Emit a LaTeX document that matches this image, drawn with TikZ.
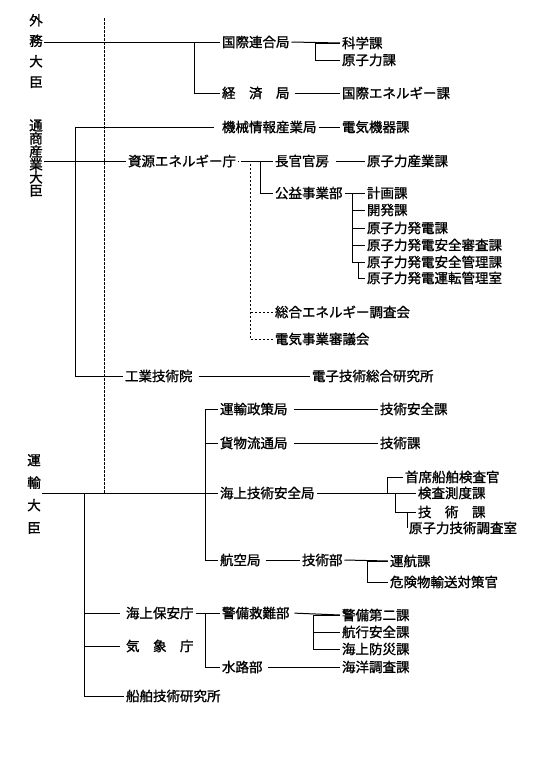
\documentclass[tikz,border=0pt]{standalone}
\usepackage{fontspec}
\newfontfamily\jp[AutoFakeBold=1.3]{Noto Sans CJK JP}
\usetikzlibrary{positioning}
\tikzset{
    unit/.style={anchor=west, inner sep=1.5pt, font=\jp\bfseries\fontsize{13.5}{16}\selectfont},
    minister/.style={align=center, inner sep=1pt, font=\jp\bfseries\fontsize{13.5}{#1}\selectfont},
    link/.style={line width=1pt},
    council/.style={line width=0.8pt, dash pattern=on 2.5pt off 1.5pt}
}
\begin{document}
\begin{tikzpicture}[x=1pt, y=-1pt, link]
    \useasboundingbox (0,0) rectangle (557,774);
    % ministers
    \node (gaimu) [minister=20.5] at (36,51) {外\\務\\大\\臣};
    \node (tsusan) [minister=13] at (36,158) {通\\商\\産\\業\\大\\臣};
    \node (unyu) [minister=22.5] at (34,494) {運\\輸\\大\\臣};

    % foreign affairs
    \node (kokuren) [unit] at (220,42) {国際連合局};
    \node (keizai) [unit] at (220,93) {経　済　局};
    \node (kagaku) [unit] at (340,43) {科学課};
    \node (genshiryoku) [unit] at (340,60) {原子力課};
    \node (kokusaiE) [unit] at (340,93) {国際エネルギー課};

    % trade and industry
    \node (kikai) [unit] at (220,127) {機械情報産業局};
    \node (denki) [unit] at (340,127) {電気機器課};
    \node (shigen) [unit] at (126,161) {資源エネルギー庁};
    \node (chokan) [unit] at (273,161) {長官官房};
    \node (genshiSangyo) [unit] at (365,161) {原子力産業課};
    \node (koeki) [unit] at (273,193) {公益事業部};
    \node (keikaku) [unit] at (365,193) {計画課};
    \node (kaihatsu) [unit] at (365,210) {開発課};
    \node (hatsuden) [unit] at (365,228) {原子力発電課};
    \node (shinsa) [unit] at (365,245) {原子力発電安全審査課};
    \node (kanri) [unit] at (365,262) {原子力発電安全管理課};
    \node (unten) [unit] at (365,278) {原子力発電運転管理室};
    \node (sogo) [unit] at (273,312) {総合エネルギー調査会};
    \node (denjigyo) [unit] at (273,339) {電気事業審議会};
    \node (kogyo) [unit] at (123,376) {工業技術院};
    \node (denshi) [unit] at (310,376) {電子技術総合研究所};

    % transport
    \node (seisaku) [unit] at (218,409) {運輸政策局};
    \node (gijutsuAnzen) [unit] at (378,409) {技術安全課};
    \node (butsuryu) [unit] at (218,443) {貨物流通局};
    \node (gijutsuka) [unit] at (378,443) {技術課};
    \node (kaijo) [unit] at (218,493) {海上技術安全局};
    \node (shuseki) [unit] at (403,477) {首席船舶検査官};
    \node (kensa) [unit] at (416,493) {検査測度課};
    \node (gijutsu2) [unit] at (416,512) {技　術　課};
    \node (genshiChosa) [unit] at (407,528) {原子力技術調査室};
    \node (koku) [unit] at (218,560) {航空局};
    \node (gijutsubu) [unit] at (300,560) {技術部};
    \node (unko) [unit] at (388,561) {運航課};
    \node (kiken) [unit] at (388,582) {危険物輸送対策官};
    \node (hoan) [unit] at (124,613) {海上保安庁};
    \node (kisho) [unit] at (124,646) {気　象　庁};
    \node (senpaku) [unit] at (124,696) {船舶技術研究所};
    \node (keibi) [unit] at (220,613) {警備救難部};
    \node (suiro) [unit] at (220,667) {水路部};
    \node (keibi2) [unit] at (340,615) {警備第二課};
    \node (kokou) [unit] at (340,632) {航行安全課};
    \node (bosai) [unit] at (340,649) {海上防災課};
    \node (kaiyo) [unit] at (340,667) {海洋調査課};

    \coordinate (dtop) at (104,18);
    \draw [council] (dtop) -- (dtop |- kaijo);

    \draw (gaimu.east |- kokuren) -- (kokuren.west);
    \draw (keizai.west) -- ++(-26,0) |- (kokuren.west);
    \draw (kokuren.east) -- (kagaku.west);
    \draw (genshiryoku.west) -- ++(-25,0) |- (kagaku.west);
    \draw [shorten <=3pt] (keizai.east) -- (kokusaiE.west);

    \draw (tsusan.east |- shigen) -- (shigen.west);
    \draw (kogyo.west) -- ++(-48,0) |- ([xshift=-6pt]kikai.west);
    \draw (kikai.east) -- (denki.west);
    \draw [council] (denjigyo.west) -- ++(-23,0) |- (shigen.east);
    \draw [council] (sogo.west) -- ++(-23,0);
    \draw [shorten <=3pt] (shigen.east) -- (chokan.west);
    \draw (koeki.west) -- ++(-13,0) |- (chokan.west);
    \draw [shorten <=5pt] (chokan.east) -- (genshiSangyo.west);
    \draw (koeki.east) -- (keikaku.west);
    \foreach \n in {kaihatsu,hatsuden,shinsa,kanri}
        \draw (\n.west) -- ++(-13,0) |- (keikaku.west);
    \draw (unten.west) -- ++(-7,0) |- (kanri.west);
    \draw [shorten <=4pt] (kogyo.east) -- (denshi.west);

    \draw (unyu.east |- kaijo) -- (kaijo.west);
    \foreach \n in {seisaku,butsuryu,koku}
        \draw (\n.west) -- ++(-13,0) |- (kaijo.west);
    \draw [shorten <=4pt] (seisaku.east) -- (gijutsuAnzen.west);
    \draw [shorten <=4pt] (butsuryu.east) -- (gijutsuka.west);
    \draw [shorten <=3pt] (kaijo.east) -- (kensa.west);
    \draw (shuseki.west) -- ++(-16,0) |- (kaijo.east);
    \draw (gijutsu2.west) -- ++(-21,0) |- (kaijo.east);
    \draw (genshiChosa.west) |- (gijutsu2.west);
    \draw [shorten <=3pt] (koku.east) -- (gijutsubu.west);
    \draw (gijutsubu.east) -- (unko.west);
    \draw (kiken.west) -- ++(-21,0) |- (unko.west);

    \draw (senpaku.west) -- ++(-40,0) |- (kaijo.west);
    \draw [shorten >=4pt] (hoan.west) ++(-40,0) -- (hoan.west);
    \draw [shorten >=4pt] (kisho.west) ++(-40,0) -- (kisho.west);
    \draw (hoan.east) -- (keibi.west);
    \draw (suiro.west) -- ++(-15,0) |- (keibi.west);
    \draw [shorten <=3pt] (keibi.east) -- (keibi2.west);
    \foreach \n in {kokou,bosai}
        \draw (\n.west) -- ++(-27,0) |- (keibi2.west);
    \draw [shorten <=3pt] (suiro.east) -- (kaiyo.west);
\end{tikzpicture}
\end{document}
